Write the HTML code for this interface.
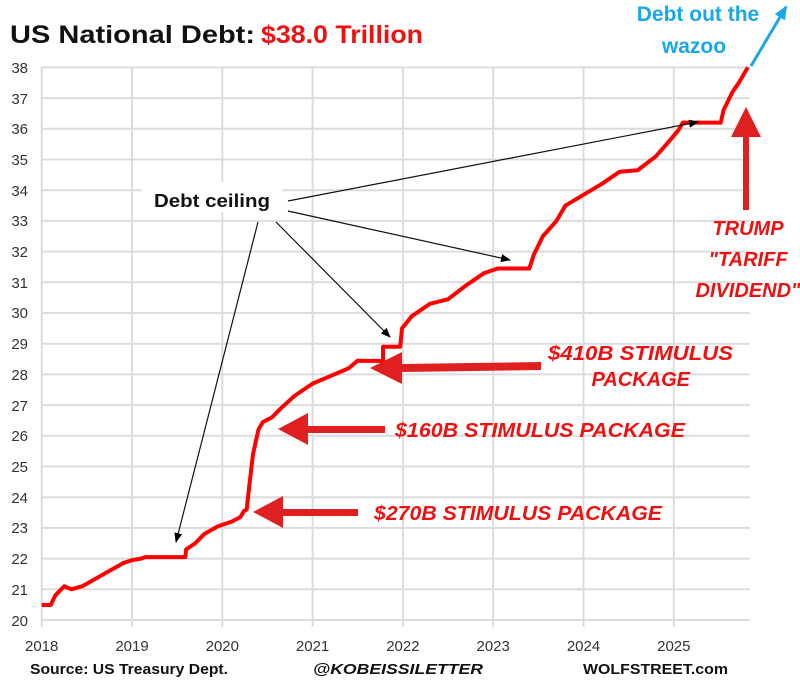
<!DOCTYPE html>
<html><head><meta charset="utf-8"><style>
body{margin:0;background:#fff;}
svg{display:block;font-family:"Liberation Sans",sans-serif;}
</style></head><body>
<svg width="800" height="683" viewBox="0 0 800 683" xmlns="http://www.w3.org/2000/svg">
<rect width="800" height="683" fill="#fff"/>
<g stroke="#dcdcdc" stroke-width="2">
<line x1="41.7" y1="67.4" x2="750" y2="67.4"/><line x1="41.7" y1="98.1" x2="750" y2="98.1"/>
<line x1="41.7" y1="128.8" x2="750" y2="128.8"/><line x1="41.7" y1="159.5" x2="750" y2="159.5"/>
<line x1="41.7" y1="190.2" x2="750" y2="190.2"/><line x1="41.7" y1="220.9" x2="750" y2="220.9"/>
<line x1="41.7" y1="251.6" x2="750" y2="251.6"/><line x1="41.7" y1="282.3" x2="750" y2="282.3"/>
<line x1="41.7" y1="313" x2="750" y2="313"/><line x1="41.7" y1="343.7" x2="750" y2="343.7"/>
<line x1="41.7" y1="374.4" x2="750" y2="374.4"/><line x1="41.7" y1="405.1" x2="750" y2="405.1"/>
<line x1="41.7" y1="435.8" x2="750" y2="435.8"/><line x1="41.7" y1="466.5" x2="750" y2="466.5"/>
<line x1="41.7" y1="497.2" x2="750" y2="497.2"/><line x1="41.7" y1="527.9" x2="750" y2="527.9"/>
<line x1="41.7" y1="558.6" x2="750" y2="558.6"/><line x1="41.7" y1="589.3" x2="750" y2="589.3"/>
<line x1="41.7" y1="620" x2="750" y2="620"/>
<line x1="41.7" y1="67" x2="41.7" y2="627"/><line x1="132" y1="67" x2="132" y2="627"/>
<line x1="222.3" y1="67" x2="222.3" y2="627"/><line x1="312.6" y1="67" x2="312.6" y2="627"/>
<line x1="402.9" y1="67" x2="402.9" y2="627"/><line x1="493.2" y1="67" x2="493.2" y2="627"/>
<line x1="583.5" y1="67" x2="583.5" y2="627"/><line x1="673.8" y1="67" x2="673.8" y2="627"/>
</g>
<g font-size="15" fill="#333" text-anchor="end">
<text x="28" y="73">38</text><text x="28" y="104">37</text><text x="28" y="134">36</text><text x="28" y="165">35</text>
<text x="28" y="196">34</text><text x="28" y="226">33</text><text x="28" y="257">32</text><text x="28" y="288">31</text>
<text x="28" y="318">30</text><text x="28" y="349">29</text><text x="28" y="380">28</text><text x="28" y="411">27</text>
<text x="28" y="441">26</text><text x="28" y="472">25</text><text x="28" y="503">24</text><text x="28" y="533">23</text>
<text x="28" y="564">22</text><text x="28" y="595">21</text><text x="28" y="626">20</text>
</g>
<g font-size="15" fill="#333" text-anchor="middle">
<text x="41.7" y="651">2018</text><text x="132" y="651">2019</text><text x="222.3" y="651">2020</text><text x="312.6" y="651">2021</text>
<text x="402.9" y="651">2022</text><text x="493.2" y="651">2023</text><text x="583.5" y="651">2024</text><text x="673.8" y="651">2025</text>
</g>
<g font-size="15" font-weight="bold" fill="#111">
<text x="30" y="674" textLength="198" lengthAdjust="spacingAndGlyphs">Source: US Treasury Dept.</text>
<text x="313" y="674" font-style="italic" textLength="170" lengthAdjust="spacingAndGlyphs">@KOBEISSILETTER</text>
<text x="583" y="674" textLength="145" lengthAdjust="spacingAndGlyphs">WOLFSTREET.com</text>
</g>
<text x="10" y="43" font-size="25" font-weight="bold" fill="#111" textLength="245" lengthAdjust="spacingAndGlyphs">US National Debt:</text>
<text x="261" y="43" font-size="25" font-weight="bold" fill="#ee1111" textLength="162" lengthAdjust="spacingAndGlyphs">$38.0 Trillion</text>
<g transform="translate(41.7,620) scale(90.3,-30.7)">
<polyline fill="none" stroke="#ff0000" stroke-width="4" vector-effect="non-scaling-stroke" stroke-linejoin="round" points="
0,0.49 0.1,0.49 0.15,0.8 0.25,1.1 0.33,1.0 0.45,1.1 0.6,1.35 0.75,1.6 0.9,1.85 1.0,1.95 1.1,2.0 1.15,2.05 1.59,2.05 1.6,2.3 1.7,2.5 1.8,2.8 1.95,3.05 2.1,3.2 2.2,3.35 2.24,3.55 2.27,3.6 2.3,4.4 2.34,5.4 2.4,6.2 2.45,6.45 2.55,6.6 2.65,6.9 2.8,7.3 3.0,7.7 3.2,7.95 3.4,8.2 3.5,8.45 3.52,8.44 3.78,8.44 3.78,8.9 3.97,8.9 3.99,9.5 4.1,9.9 4.3,10.3 4.5,10.45 4.7,10.9 4.9,11.3 5.05,11.45 5.4,11.45 5.45,11.9 5.55,12.5 5.7,13.0 5.8,13.5 6.0,13.85 6.2,14.2 6.4,14.6 6.6,14.65 6.8,15.1 6.95,15.6 7.05,15.95 7.1,16.2 7.52,16.2 7.55,16.6 7.65,17.2 7.72,17.5 7.82,18.0"/>
</g>
<defs>
<marker id="ah" markerWidth="10" markerHeight="8" refX="9" refY="4" orient="auto" markerUnits="userSpaceOnUse"><path d="M0,0 L10,4 L0,8 z" fill="#000"/></marker>
<marker id="bh" markerWidth="14" markerHeight="12" refX="12" refY="6" orient="auto" markerUnits="userSpaceOnUse"><path d="M0,0 L14,6 L0,12 z" fill="#1aa7e8"/></marker>
</defs>
<g stroke="#111" stroke-width="1.2" marker-end="url(#ah)">
<line x1="288" y1="201" x2="698" y2="122"/>
<line x1="288" y1="211" x2="510" y2="260"/>
<line x1="276" y1="222" x2="390" y2="337"/>
<line x1="258" y1="222" x2="176" y2="542"/>
</g>
<rect x="142" y="182" width="140" height="30" fill="#fff"/>
<text x="154" y="207" font-size="18" font-weight="bold" fill="#111" textLength="116" lengthAdjust="spacingAndGlyphs">Debt ceiling</text>
<g fill="#e02020">
<polygon points="253,512 283,496 283,509 358,509 358,516 283,516 283,528"/>
<polygon points="278,429 308,413 308,426 385,426 385,433 308,433 308,445"/>
<polygon points="370,368 402,352 402,364 541,362 541,370 402,372 402,384"/>
<polygon points="746,107 761,137 749,137 749,210 743,210 743,137 731,137"/>
</g>
<g font-size="20" font-weight="bold" font-style="italic" fill="#ee1111">
<text x="374" y="520" textLength="288" lengthAdjust="spacingAndGlyphs">$270B STIMULUS PACKAGE</text>
<text x="395" y="437" textLength="290" lengthAdjust="spacingAndGlyphs">$160B STIMULUS PACKAGE</text>
<text x="548" y="360" textLength="185" lengthAdjust="spacingAndGlyphs">$410B STIMULUS</text>
<text x="690" y="386" text-anchor="end">PACKAGE</text>
<text x="748" y="235" text-anchor="middle">TRUMP</text>
<text x="748" y="266" text-anchor="middle">"TARIFF</text>
<text x="748" y="297" text-anchor="middle">DIVIDEND"</text>
</g>
<line x1="751" y1="66" x2="786" y2="7" stroke="#1aa7e8" stroke-width="3" marker-end="url(#bh)"/>
<g font-size="21" font-weight="bold" fill="#1aa7e8" text-anchor="middle">
<text x="698" y="21">Debt out the</text>
<text x="694" y="53">wazoo</text>
</g>
</svg>
</body></html>
